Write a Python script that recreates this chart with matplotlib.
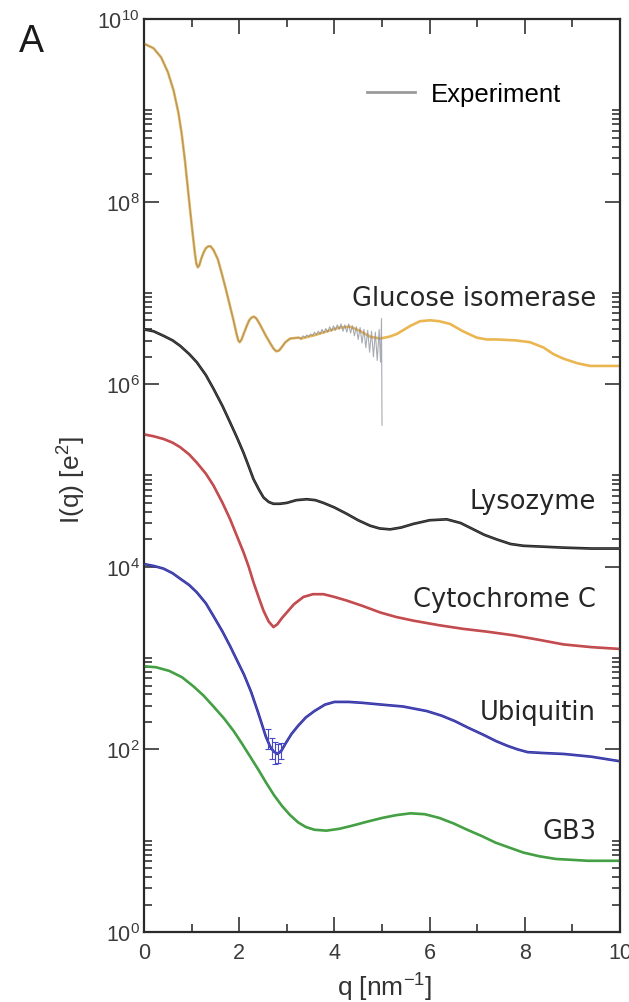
import numpy as np
import matplotlib
matplotlib.use('Agg')
import matplotlib.pyplot as plt
from matplotlib.ticker import FixedLocator, FixedFormatter, NullFormatter

plt.rcParams['font.family'] = ['Liberation Sans', 'DejaVu Sans']
plt.rcParams['mathtext.fontset'] = 'custom'
plt.rcParams['mathtext.rm'] = 'Liberation Sans'
plt.rcParams['mathtext.it'] = 'Liberation Sans'
plt.rcParams['mathtext.default'] = 'regular'

# scattering curves, values given as log10 I(q)
gi_q = [0.0, 0.2, 0.36, 0.5, 0.62, 0.72, 0.79, 0.86, 0.91, 0.97, 1.02, 1.07, 1.10,
        1.13, 1.16, 1.20, 1.25, 1.30, 1.35, 1.40, 1.46, 1.55, 1.64, 1.72, 1.80, 1.88,
        1.94, 1.98, 2.01, 2.05, 2.10, 2.16, 2.21, 2.26, 2.31, 2.36, 2.42, 2.48, 2.56,
        2.65, 2.72, 2.78, 2.84, 2.90, 2.97, 3.07, 3.25, 3.3]
gi_log = [9.73, 9.68, 9.58, 9.42, 9.22, 8.98, 8.75, 8.45, 8.20, 7.90, 7.66, 7.43, 7.32,
          7.28, 7.30, 7.37, 7.44, 7.49, 7.51, 7.51, 7.47, 7.37, 7.20, 7.04, 6.87, 6.70,
          6.56, 6.48, 6.46, 6.49, 6.56, 6.64, 6.70, 6.73, 6.74, 6.72, 6.67, 6.61, 6.53,
          6.45, 6.39, 6.36, 6.37, 6.41, 6.46, 6.50, 6.51, 6.50]
# computed glucose isomerase curve beyond the measured range
gi_tail_q = [3.3, 3.6, 3.91, 4.1, 4.33, 4.55, 4.75, 4.96, 5.15, 5.31, 5.6, 5.8, 6.01,
             6.2, 6.43, 6.7, 6.99, 7.2, 7.41, 7.8, 8.11, 8.4, 8.6, 8.81, 9.1, 9.37,
             9.7, 10.0]
gi_tail_log = [6.50, 6.54, 6.59, 6.62, 6.63, 6.58, 6.52, 6.50, 6.52, 6.55, 6.64, 6.69,
               6.70, 6.69, 6.66, 6.58, 6.51, 6.49, 6.49, 6.48, 6.46, 6.40, 6.33, 6.28,
               6.23, 6.20, 6.20, 6.20]

lys_q = [0.0, 0.2, 0.41, 0.6, 0.76, 0.95, 1.11, 1.3, 1.46, 1.65, 1.81, 1.95, 2.09,
         2.2, 2.30, 2.42, 2.51, 2.62, 2.72, 2.85, 3.0, 3.2, 3.42, 3.6, 3.77, 4.0,
         4.26, 4.5, 4.75, 4.95, 5.17, 5.4, 5.66, 6.0, 6.36, 6.65, 6.92, 7.15, 7.41,
         7.7, 7.97, 8.4, 8.81, 9.4, 10.0]
lys_log = [6.60, 6.58, 6.53, 6.48, 6.42, 6.33, 6.24, 6.10, 5.95, 5.76, 5.58, 5.42, 5.25,
           5.10, 4.96, 4.84, 4.76, 4.71, 4.69, 4.69, 4.70, 4.73, 4.74, 4.73, 4.70, 4.65,
           4.58, 4.51, 4.45, 4.42, 4.41, 4.43, 4.47, 4.51, 4.52, 4.48, 4.41, 4.35, 4.30,
           4.25, 4.23, 4.22, 4.21, 4.20, 4.20]

cyc_q = [0.0, 0.2, 0.41, 0.6, 0.76, 0.95, 1.11, 1.3, 1.46, 1.65, 1.81, 1.95, 2.09,
         2.2, 2.30, 2.42, 2.51, 2.62, 2.72, 2.8, 2.9, 3.0, 3.15, 3.35, 3.55, 3.77,
         4.0, 4.26, 4.6, 4.96, 5.3, 5.66, 6.2, 6.71, 7.2, 7.76, 8.3, 8.81, 9.4, 10.0]
cyc_log = [5.45, 5.43, 5.40, 5.36, 5.31, 5.23, 5.14, 5.02, 4.89, 4.70, 4.52, 4.34, 4.16,
           4.00, 3.83, 3.65, 3.52, 3.40, 3.34, 3.37, 3.44, 3.50, 3.59, 3.67, 3.70, 3.70,
           3.67, 3.63, 3.57, 3.50, 3.45, 3.41, 3.36, 3.32, 3.29, 3.25, 3.20, 3.15, 3.12, 3.10]

ubq_q = [0.0, 0.2, 0.41, 0.6, 0.76, 0.95, 1.11, 1.3, 1.46, 1.65, 1.81, 1.95, 2.1,
         2.25, 2.4, 2.48, 2.56, 2.65, 2.72, 2.80, 2.88, 2.98, 3.1, 3.24, 3.4, 3.58,
         3.8, 4.0, 4.3, 4.59, 5.0, 5.44, 5.94, 6.25, 6.53, 6.8, 7.13, 7.4, 7.63,
         7.85, 8.06, 8.4, 8.82, 9.4, 10.0]
ubq_log = [4.03, 4.01, 3.98, 3.93, 3.87, 3.80, 3.72, 3.60, 3.46, 3.29, 3.13, 2.98, 2.82,
           2.63, 2.40, 2.27, 2.14, 2.03, 1.98, 1.95, 1.98, 2.07, 2.17, 2.26, 2.35, 2.42,
           2.49, 2.52, 2.52, 2.51, 2.49, 2.47, 2.42, 2.37, 2.31, 2.24, 2.16, 2.09, 2.04,
           2.00, 1.97, 1.96, 1.95, 1.92, 1.87]

gb3_q = [0.0, 0.25, 0.53, 0.8, 1.04, 1.25, 1.46, 1.68, 1.885, 2.05, 2.22, 2.4, 2.56,
         2.73, 2.90, 3.07, 3.24, 3.4, 3.58, 3.83, 4.1, 4.34, 4.7, 5.01, 5.3, 5.60,
         5.9, 6.20, 6.5, 6.79, 7.1, 7.38, 7.7, 7.97, 8.3, 8.65, 9.0, 9.32, 10.0]
gb3_log = [2.91, 2.90, 2.86, 2.79, 2.69, 2.59, 2.47, 2.34, 2.20, 2.07, 1.93, 1.78, 1.64,
           1.50, 1.38, 1.28, 1.20, 1.15, 1.12, 1.11, 1.13, 1.16, 1.21, 1.25, 1.28, 1.30,
           1.29, 1.25, 1.19, 1.12, 1.05, 0.98, 0.92, 0.87, 0.83, 0.80, 0.79, 0.78, 0.78]

# noisy high-q end of the glucose isomerase measurement
gi_exp_q = [3.30, 3.34, 3.38, 3.42, 3.46, 3.50, 3.54, 3.58, 3.62, 3.66, 3.70, 3.74,
            3.78, 3.82, 3.86, 3.90, 3.94, 3.98, 4.02, 4.06, 4.10, 4.14, 4.18, 4.22,
            4.26, 4.30, 4.34, 4.38, 4.42, 4.46, 4.50, 4.54, 4.58, 4.62, 4.66, 4.70,
            4.74, 4.78, 4.82, 4.86, 4.90, 4.94, 4.97, 4.99, 5.00]
gi_exp_log = [6.50, 6.53, 6.51, 6.54, 6.52, 6.55, 6.53, 6.57, 6.54, 6.58, 6.55, 6.60,
              6.56, 6.61, 6.57, 6.63, 6.58, 6.64, 6.59, 6.65, 6.60, 6.66, 6.58, 6.65,
              6.57, 6.66, 6.56, 6.64, 6.53, 6.63, 6.49, 6.62, 6.45, 6.60, 6.40, 6.59,
              6.35, 6.58, 6.30, 6.57, 6.26, 6.60, 6.24, 6.72, 5.55]

# ubiquitin error bars around the minimum
ubq_err_q = [2.60, 2.68, 2.75, 2.82, 2.88]
ubq_err_mid = [2.10, 2.01, 1.96, 1.95, 1.98]
ubq_err_lo = [2.00, 1.90, 1.84, 1.85, 1.90]
ubq_err_hi = [2.22, 2.12, 2.08, 2.06, 2.07]

names = ['Glucose isomerase', 'Lysozyme', 'Cytochrome C', 'Ubiquitin', 'GB3']
colors = ['#ebb652', '#1c1c1c', '#d43c40', '#2a2ab8', '#34a834']
label_log = [6.87, 4.64, 3.57, 2.33, 1.03]
label_q = 9.5

ytick_vals = [1e0, 1e2, 1e4, 1e6, 1e8, 1e10]
ytick_labels = ['$10^{0}$', '$10^{2}$', '$10^{4}$', '$10^{6}$', '$10^{8}$', '$10^{10}$']
xtick_vals = [0, 2, 4, 6, 8, 10]

curves = [(gi_q, gi_log), (lys_q, lys_log), (cyc_q, cyc_log),
          (ubq_q, ubq_log), (gb3_q, gb3_log)]

fig = plt.figure(figsize=(6.29, 10.03), dpi=100)
ax = fig.add_axes([144 / 629, 70 / 1003, 476 / 629, 913 / 1003])
ax.set_yscale('log')

grey = '#808080'
ax.plot(gi_tail_q, np.power(10.0, gi_tail_log), color=colors[0], lw=1.9,
        solid_capstyle='round', zorder=2)
for (q, lg), c in zip(curves, colors):
    ax.plot(q, np.power(10.0, lg), color=c, lw=1.9, solid_capstyle='round',
            solid_joinstyle='round', zorder=2)

# measured data drawn over each computed curve
for i, (q, lg) in enumerate(curves):
    a = 0.6 if i == 0 else 0.45
    ax.plot(q, np.power(10.0, lg), color=grey, lw=0.8, alpha=a, zorder=3)
ax.plot(gi_exp_q, np.power(10.0, gi_exp_log), color='#8a8f99', lw=0.8, alpha=0.75, zorder=3)

mid = np.power(10.0, ubq_err_mid)
lo = np.power(10.0, ubq_err_lo)
hi = np.power(10.0, ubq_err_hi)
ax.errorbar(ubq_err_q, mid, yerr=[mid - lo, hi - mid], fmt='none', ecolor='#4848c8',
            elinewidth=0.8, capsize=2, capthick=0.8, zorder=3)

for name, lg in zip(names, label_log):
    ax.text(label_q, 10 ** lg, name, ha='right', va='baseline', fontsize=18.5,
            family=['DejaVu Sans'], color='#262626', zorder=4)

ax.plot([], [], color='#9a9a9a', lw=2.0, label='Experiment')
ax.legend(loc='center left', bbox_to_anchor=((367 - 144) / 476, (933 - 95) / 913),
          frameon=False, fontsize=18.5, handlelength=1.85, handletextpad=0.65,
          borderpad=0, borderaxespad=0)

ax.set_xlim(0, 10)
ax.set_ylim(1e0, 1e10)

ax.xaxis.set_major_locator(FixedLocator(xtick_vals))
ax.xaxis.set_minor_locator(FixedLocator([1, 3, 5, 7, 9]))
ax.yaxis.set_major_locator(FixedLocator(ytick_vals))
ax.yaxis.set_major_formatter(FixedFormatter(ytick_labels))
minor_y = [k * 10.0 ** e for e in [0, 2, 4, 6, 8] for k in range(2, 11)]
ax.yaxis.set_minor_locator(FixedLocator(minor_y))
ax.yaxis.set_minor_formatter(NullFormatter())

ax.tick_params(which='both', direction='in', top=True, right=True, colors='#333333',
               labelcolor='#3a3a3a', width=1.2)
ax.tick_params(which='major', length=11, labelsize=15.5)
ax.tick_params(axis='x', which='major', pad=7)
ax.tick_params(axis='y', which='major', pad=3)
ax.tick_params(which='minor', length=5.5)
for sp in ax.spines.values():
    sp.set_linewidth(1.6)
    sp.set_color('#2a2a2a')

fig.text(385 / 629, 1 - 988 / 1003, 'q [nm$^{-1}$]', ha='center', va='center',
         fontsize=19, color='#333333')
fig.text(72 / 629, 1 - 480 / 1003, 'I(q) [e$^{2}$]', ha='center', va='center',
         rotation=90, fontsize=19, color='#333333')
fig.text(31 / 629, 1 - 42 / 1003, 'A', ha='center', va='center', fontsize=27,
         color='#1a1a1a')

fig.savefig('out.png', dpi=100)
